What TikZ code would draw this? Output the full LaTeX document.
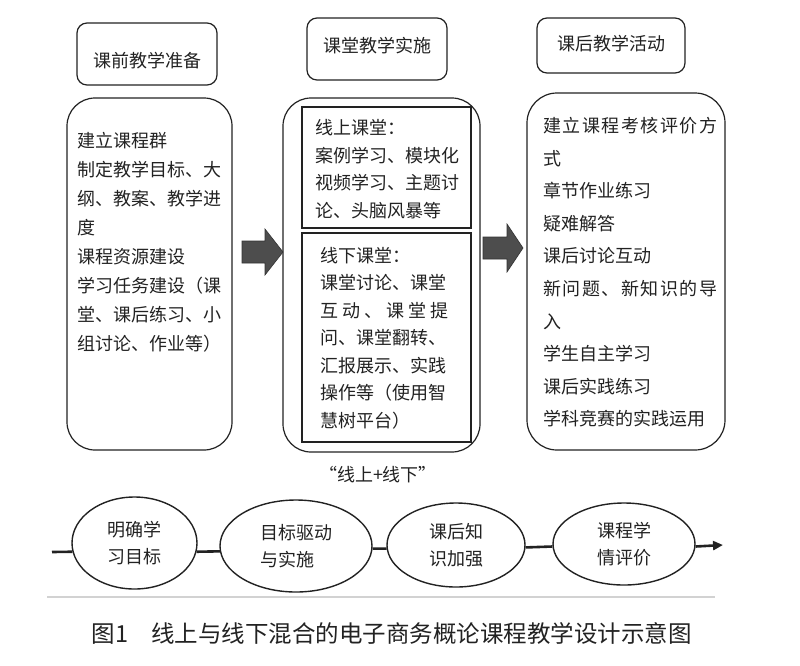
\documentclass[tikz,border=0pt]{standalone}
\usepackage{fontspec}
\newfontfamily\cjk{Noto Sans CJK SC}
\usetikzlibrary{arrows.meta,shapes.geometric}
\definecolor{ink}{HTML}{222222}
\definecolor{arrowgray}{HTML}{4D4D4D}
\begin{document}
\begin{tikzpicture}[x=1pt,y=-1pt,
  every node/.style={font=\cjk\fontsize{18}{28}\selectfont, text=ink},
  headbox/.style={draw=ink, line width=1.2pt, rounded corners=10pt, inner sep=0pt},
  bigbox/.style={draw=ink, line width=1.2pt, rounded corners=28pt, inner sep=0pt},
  innerbox/.style={draw=ink, line width=1.3pt, inner sep=0pt},
  txt/.style={anchor=north west, align=left, inner sep=0pt},
  ell/.style={ellipse, draw=ink, line width=1.4pt, fill=white, inner sep=0pt, align=left, font=\cjk\fontsize{18}{27}\selectfont},
  blockarrow/.style={fill=arrowgray, draw=black!80, line width=0.6pt},
  conn/.style={draw=ink, line width=2.6pt},
]
\useasboundingbox (0,0) rectangle (800,665);
\fill[white] (0,0) rectangle (800,665);

% header boxes
\node[headbox, minimum width=140pt, minimum height=62pt, text height=26.6pt, text depth=0pt] (hA) at (147,54) {课前教学准备};
\node[headbox, minimum width=140pt, minimum height=62pt, text height=15.8pt, text depth=9.2pt] (hB) at (377,49) {课堂教学实施};
\node[headbox, minimum width=148pt, minimum height=55pt, text height=15.8pt, text depth=6.2pt] (hC) at (611,45.5) {课后教学活动};

% big boxes
\node[bigbox, minimum width=165pt, minimum height=352pt] (bL) at (149.5,274) {};
\node[bigbox, minimum width=197pt, minimum height=354pt] (bM) at (381.5,275) {};
\node[bigbox, rounded corners=30pt, minimum width=198pt, minimum height=357pt] (bR) at (626,271.5) {};

% inner boxes
\node[innerbox, minimum width=169pt, minimum height=121pt] (iU) at (386.5,167.5) {};
\node[innerbox, minimum width=169pt, minimum height=209pt] (iD) at (386.5,337.5) {};

% texts
\node[txt, font=\cjk\fontsize{18}{29}\selectfont] (tL) at (77,132)
 {建立课程群\\制定教学目标、大\\纲、教案、教学进\\度\\课程资源建设\\学习任务建设（课\\堂、课后练习、小\\组讨论、作业等）};
\node[txt, font=\cjk\fontsize{18}{27.7}\selectfont] (tU) at (315,119)
 {线上课堂：\\案例学习、模块化\\视频学习、主题讨\\论、头脑风暴等};
\node[txt, font=\cjk\fontsize{18}{27.5}\selectfont] (tD) at (320,247)
 {线下课堂：\\课堂讨论、课堂\\\makebox[128pt][s]{互\hfill 动\hfill 、\hfill 课\hfill 堂\hfill 提}\\问、课堂翻转、\\汇报展示、实践\\操作等（使用智\\慧树平台）};
\node[txt, font=\cjk\fontsize{18}{32.6}\selectfont] (tR) at (543,117)
 {\makebox[174pt][s]{建\hfill 立\hfill 课\hfill 程\hfill 考\hfill 核\hfill 评\hfill 价\hfill 方}\\式\\章节作业练习\\疑难解答\\课后讨论互动\\\makebox[174pt][s]{新\hfill 问\hfill 题\hfill 、\hfill 新\hfill 知\hfill 识\hfill 的\hfill 导}\\入\\学生自主学习\\课后实践练习\\学科竞赛的实践运用};

\node (q) at (378,475) {“线上+线下”};

% block arrows
\path[blockarrow] (242,241) -- (265,241) -- (265,229) -- (283,252) -- (265,275) -- (265,263) -- (242,263) -- cycle;
\path[blockarrow] (483,237) -- (507,237) -- (507,224) -- (523,248) -- (507,272) -- (507,259) -- (483,259) -- cycle;

% bottom process
\coordinate (s) at (52,552);
\coordinate (e) at (723,545);
\node[ell, minimum width=125pt, minimum height=92pt] (e1) at (134.5,543) {明确学\\习目标};
\node[ell, minimum width=152pt, minimum height=92pt] (e2) at (296,546) {目标驱动\\与实施};
\node[ell, minimum width=138pt, minimum height=84pt] (e3) at (456,545) {课后知\\识加强};
\node[ell, minimum width=142pt, minimum height=82pt] (e4) at (624,544) {课程学\\情评价};
\draw[conn] (s) -- (e1.188);
\draw[conn] (e1.-8) -- (e2.184);
\draw[conn] (e2.-2) -- (e3.183);
\draw[conn] (e3.-2) -- (e4.182);
\draw[conn, -{Triangle[length=10pt,width=9pt]}] (e4.-2) -- (e);

\draw[gray!35, line width=1.2pt] (47,597) -- (715,597);

\node[anchor=west, font=\cjk\fontsize{23.5}{27}\selectfont] (cap) at (88,633) {图1\hspace{23pt}线上与线下混合的电子商务概论课程教学设计示意图};
\end{tikzpicture}
\end{document}
